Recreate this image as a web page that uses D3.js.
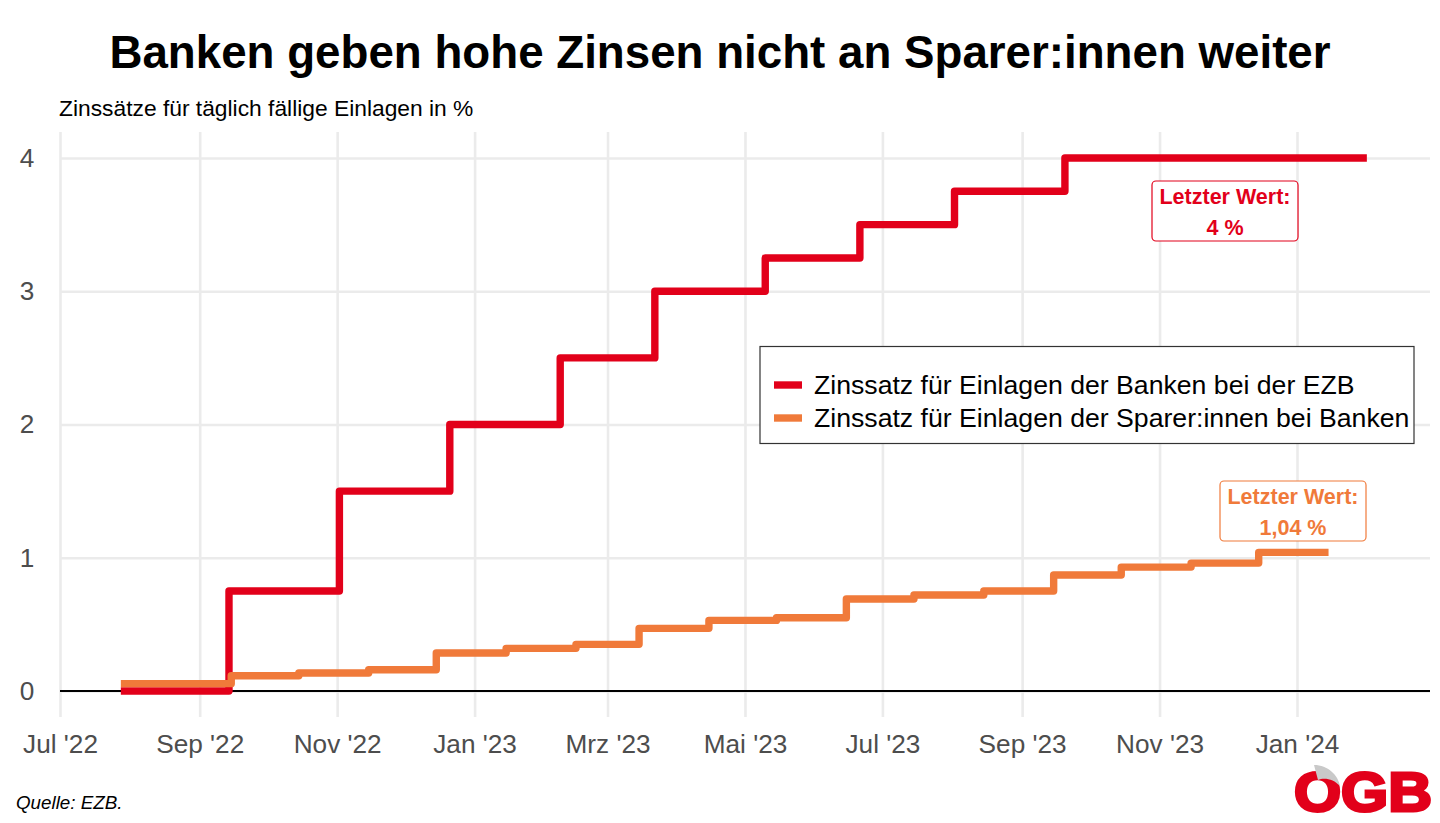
<!DOCTYPE html>
<html lang="de">
<head>
<meta charset="utf-8">
<script src="https://cdn.jsdelivr.net/npm/d3@7"></script>
<style>
html,body{margin:0;padding:0;background:#fff;overflow:hidden}
svg{display:block}
text{font-family:"Liberation Sans",Arial,sans-serif}
</style>
</head>
<body>
<svg id="chart" width="1440" height="823"></svg>
<script>
const titleText = "Banken geben hohe Zinsen nicht an Sparer:innen weiter";
const subtitleText = "Zinssätze für täglich fällige Einlagen in %";
const sourceText = "Quelle: EZB.";
const seriesNames = ["Zinssatz für Einlagen der Banken bei der EZB", "Zinssatz für Einlagen der Sparer:innen bei Banken"];
const seriesColors = ["#E2001A", "#F07A3A"];

const ezbDates = ["2022-07-28","2022-09-14","2022-11-02","2022-12-21","2023-02-08","2023-03-22","2023-05-10","2023-06-21","2023-08-02","2023-09-20","2024-02-01"];
const ezbValues = [0,0.75,1.5,2,2.5,3,3.25,3.5,3.75,4,4];

const bankDates = ["2022-07-28","2022-09-15","2022-10-15","2022-11-15","2022-12-15","2023-01-15","2023-02-15","2023-03-15","2023-04-15","2023-05-15","2023-06-15","2023-07-15","2023-08-15","2023-09-15","2023-10-15","2023-11-15","2023-12-15","2024-01-15"];
const bankValues = [0.055,0.115,0.135,0.16,0.285,0.32,0.35,0.47,0.53,0.55,0.69,0.72,0.75,0.87,0.93,0.96,1.04,1.04];

const xTickDates = ["2022-07-01","2022-09-01","2022-11-01","2023-01-01","2023-03-01","2023-05-01","2023-07-01","2023-09-01","2023-11-01","2024-01-01"];
const xTickLabels = ["Jul '22","Sep '22","Nov '22","Jan '23","Mrz '23","Mai '23","Jul '23","Sep '23","Nov '23","Jan '24"];
const yTicks = [0,1,2,3,4];

const parse = d3.utcParse("%Y-%m-%d");
const svg = d3.select("#chart");

const panel = {left:60, right:1430, top:132, bottom:717};
const x = d3.scaleUtc()
  .domain([parse("2022-07-01"), parse("2024-01-01")])
  .range([60, 1297]);
const y = d3.scaleLinear().domain([0,4]).range([691,158]);

// grid via axes
const xAxis = d3.axisBottom(x)
  .tickValues(xTickDates.map(parse))
  .tickFormat((d,i)=>xTickLabels[i])
  .tickSize(panel.bottom-panel.top)
  .tickPadding(17);
const gx = svg.append("g").attr("transform",`translate(0,${panel.top})`).call(xAxis);
gx.select(".domain").remove();
gx.selectAll("line").attr("stroke","#ebebeb").attr("stroke-width",2.6);
gx.selectAll("text").attr("font-size",26.2).attr("fill","#4d4d4d");

const yAxis = d3.axisLeft(y)
  .tickValues(yTicks)
  .tickFormat(d3.format("d"))
  .tickSize(panel.left-panel.right);
const gy = svg.append("g").attr("transform",`translate(${panel.left},0)`).call(yAxis);
gy.select(".domain").remove();
gy.selectAll("line").attr("stroke","#ebebeb").attr("stroke-width",2.6);
gy.selectAll("text").attr("x",-33).attr("font-size",26.2).attr("fill","#4d4d4d").attr("text-anchor","middle");

// zero line
svg.append("line").attr("x1",panel.left).attr("x2",panel.right)
  .attr("y1",y(0)).attr("y2",y(0)).attr("stroke","#000").attr("stroke-width",2);

// series
const line = d3.line().x(d=>x(d.date)).y(d=>y(d.value)).curve(d3.curveStepAfter);
const toRows = (ds,vs)=>ds.map((d,i)=>({date:parse(d),value:vs[i]}));
[[ezbDates,ezbValues],[bankDates,bankValues]].forEach(([ds,vs],i)=>{
  svg.append("path").datum(toRows(ds,vs))
    .attr("fill","none").attr("stroke",seriesColors[i])
    .attr("stroke-width",7.4).attr("stroke-linejoin","round").attr("stroke-linecap","butt")
    .attr("d",line);
});

// value labels
function valueLabel(cx,top,color,l1,l2){
  svg.append("rect").attr("x",cx-73).attr("y",top).attr("width",146).attr("height",60).attr("rx",4)
    .attr("fill","#fff").attr("stroke",color).attr("stroke-width",1.2);
  svg.append("text").attr("x",cx).attr("y",top+23).attr("text-anchor","middle")
    .attr("font-size",21.5).attr("font-weight","bold").attr("fill",color).text(l1);
  svg.append("text").attr("x",cx).attr("y",top+54).attr("text-anchor","middle")
    .attr("font-size",21.5).attr("font-weight","bold").attr("fill",color).text(l2);
}
valueLabel(1225,181,seriesColors[0],"Letzter Wert:","4 %");
valueLabel(1293,481,seriesColors[1],"Letzter Wert:","1,04 %");

// legend
svg.append("rect").attr("x",760).attr("y",346.5).attr("width",654).attr("height",97)
  .attr("fill","#fff").attr("stroke","#333").attr("stroke-width",1.2);
seriesNames.forEach((n,i)=>{
  const yy = 385 + i*33;
  svg.append("line").attr("x1",774).attr("x2",802).attr("y1",yy).attr("y2",yy)
    .attr("stroke",seriesColors[i]).attr("stroke-width",7.4);
  svg.append("text").attr("x",814).attr("y",yy+9).attr("font-size",26.65).attr("fill","#000").text(n);
});

// titles
svg.append("text").attr("x",720).attr("y",68).attr("text-anchor","middle")
  .attr("font-size",45.7).attr("font-weight","bold").attr("fill","#000").text(titleText);
svg.append("text").attr("x",59).attr("y",116).attr("font-size",22.8).attr("fill","#000").text(subtitleText);
svg.append("text").attr("x",16).attr("y",809).attr("font-size",18.8).attr("font-style","italic").attr("fill","#000").text(sourceText);

// logo
svg.append("text").attr("x",1294).attr("y",811).attr("font-size",56).attr("font-weight","bold")
  .attr("textLength",138).attr("lengthAdjust","spacingAndGlyphs")
  .attr("fill","#E2001A").attr("stroke","#E2001A").attr("stroke-width",3).text("OGB");
svg.append("path").attr("d","M1314 765 C1328 765 1338 775 1340 786 C1334 779 1324 777 1318 780 Z").attr("fill","#c9c9c9");
</script>
</body>
</html>
